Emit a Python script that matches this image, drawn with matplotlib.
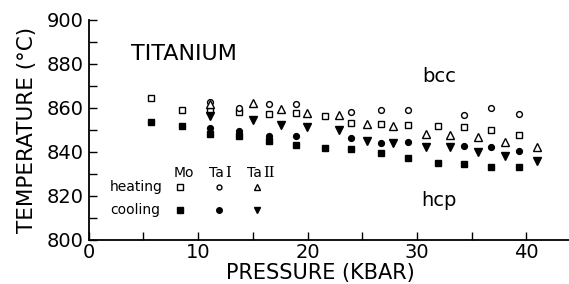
import matplotlib
matplotlib.use("Agg")
import matplotlib.pyplot as plt
from matplotlib.ticker import MultipleLocator

# data (pressure in kbar, temperature in deg C)
mo_x = [5.7, 8.5, 11.1, 13.7, 16.5, 18.9, 21.6, 24.0, 26.7, 29.2, 31.9, 34.3, 36.8, 39.3]
mo_heat = [864.7, 859.1, 858.8, 858.3, 857.3, 857.6, 856.5, 853.0, 852.6, 852.3, 851.8, 851.2, 850.0, 847.7]
mo_cool = [853.8, 851.8, 848.2, 847.3, 845.0, 843.0, 841.8, 841.2, 839.4, 837.1, 835.2, 834.5, 833.0, 833.0]

ta1_x = [11.1, 13.7, 16.5, 18.9, 24.0, 26.7, 29.2, 34.3, 36.8, 39.3]
ta1_heat = [862.6, 860.1, 861.8, 861.8, 858.3, 859.1, 859.1, 856.8, 859.8, 857.1]
ta1_cool = [850.8, 849.5, 847.3, 847.3, 846.5, 844.2, 844.7, 842.9, 842.1, 840.2]

ta2_x = [11.1, 15.0, 17.6, 19.9, 22.9, 25.4, 27.8, 30.8, 33.0, 35.6, 38.0, 41.0]
ta2_heat = [862.0, 862.1, 859.5, 857.6, 856.7, 852.7, 852.0, 848.2, 847.7, 847.0, 844.7, 842.1]
ta2_cool = [856.4, 854.5, 852.3, 851.2, 850.0, 845.1, 843.9, 842.1, 842.1, 839.9, 838.2, 836.0]

plt.rcParams["font.family"] = ["DejaVu Sans"]

fig = plt.figure(figsize=(5.69, 2.84), dpi=100)
ax = fig.add_axes([0.156, 0.155, 0.85, 0.775])

ms = 4.5
ax.plot(mo_x, mo_heat, "s", ms=ms, mfc="white", mec="black", mew=1.0, ls="none")
ax.plot(mo_x, mo_cool, "s", ms=ms, color="black", ls="none")
ax.plot(ta1_x, ta1_heat, "o", ms=ms - 0.3, mfc="white", mec="black", mew=1.0, ls="none")
ax.plot(ta1_x, ta1_cool, "o", ms=ms - 0.3, color="black", ls="none")
ax.plot(ta2_x, ta2_heat, "^", ms=ms + 1, mfc="white", mec="black", mew=1.0, ls="none")
ax.plot(ta2_x, ta2_cool, "v", ms=ms + 1, color="black", ls="none")

# hand-made legend block
lx = [8.3, 11.9, 15.4]
ax.text(8.66, 830.3, "Mo", fontsize=10, ha="center", va="center")
ax.text(12.35, 830.3, "Ta", fontsize=10, ha="right", va="center")
ax.text(12.45, 830.3, "I", fontsize=10.5, family="DejaVu Serif", ha="left", va="center")
ax.text(15.85, 830.3, "Ta", fontsize=10, ha="right", va="center")
ax.text(15.95, 830.3, "II", fontsize=10.5, family="DejaVu Serif", ha="left", va="center")
ax.text(1.95, 823.9, "heating", fontsize=10, ha="left", va="center")
ax.text(1.95, 813.4, "cooling", fontsize=10, ha="left", va="center")
ax.plot(lx[0], 823.9, "s", ms=3.8, mfc="white", mec="black", mew=1.0)
ax.plot(lx[1], 823.9, "o", ms=3.5, mfc="white", mec="black", mew=1.0)
ax.plot(lx[2], 823.9, "^", ms=4.5, mfc="white", mec="black", mew=1.0)
ax.plot(lx[0], 813.4, "s", ms=4.0, color="black")
ax.plot(lx[1], 813.4, "o", ms=4.0, color="black")
ax.plot(lx[2], 813.4, "v", ms=5.0, color="black")

ax.text(3.9, 884.5, "TITANIUM", fontsize=16, ha="left", va="center")
ax.text(32.0, 874.2, "bcc", fontsize=14, ha="center", va="center")
ax.text(32.0, 818.0, "hcp", fontsize=14, ha="center", va="center")

ax.set_xlim(0, 44.2)
ax.set_ylim(800, 900)
ax.xaxis.set_major_locator(MultipleLocator(10))
ax.xaxis.set_minor_locator(MultipleLocator(5))
ax.yaxis.set_major_locator(MultipleLocator(20))
ax.yaxis.set_minor_locator(MultipleLocator(10))
ax.tick_params(which="both", direction="in", length=6, width=1.0, labelsize=14)
ax.tick_params(axis="x", pad=2)
ax.spines["top"].set_visible(False)
ax.spines["right"].set_visible(False)
ax.spines["left"].set_linewidth(1.3)
ax.spines["bottom"].set_linewidth(1.3)

ax.set_xlabel("PRESSURE (KBAR)", fontsize=15)
ax.xaxis.set_label_coords(0.478, -0.105)
ax.set_ylabel("TEMPERATURE (\u00b0C)", fontsize=15.5, labelpad=7)

fig.savefig("out.png", dpi=100)
